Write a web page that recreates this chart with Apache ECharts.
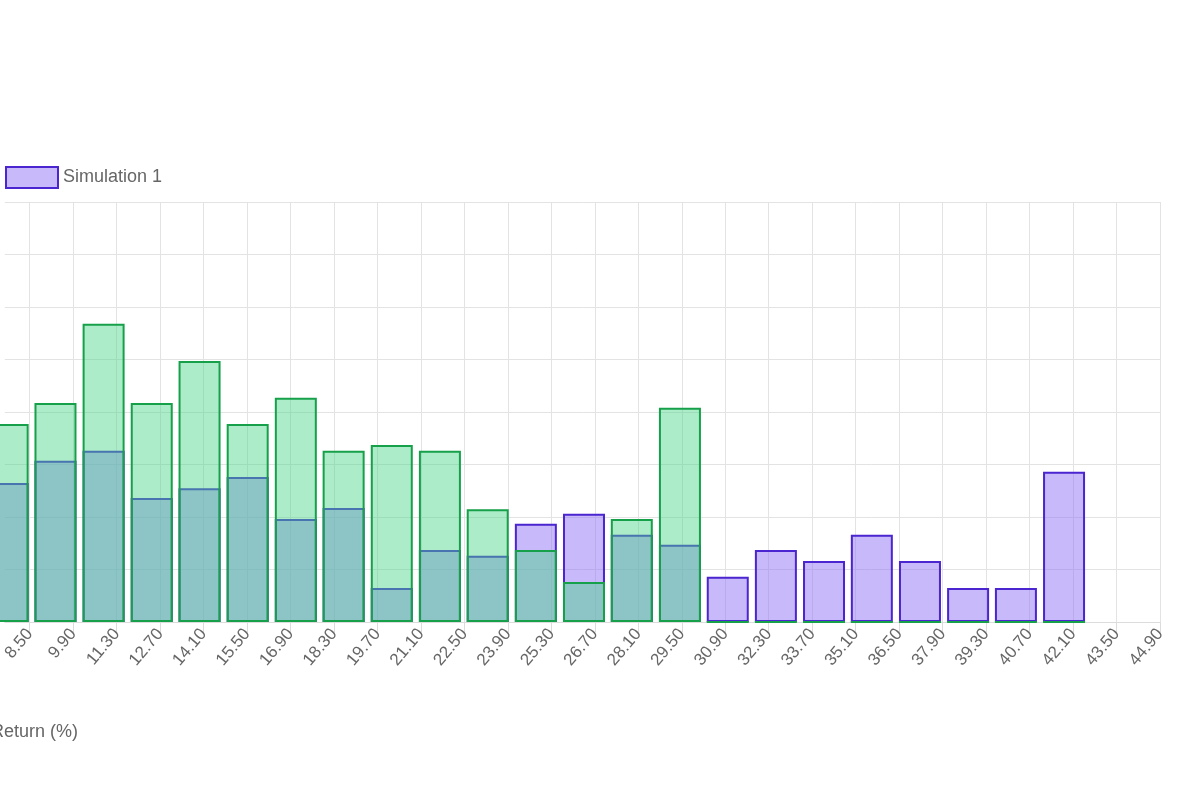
<!DOCTYPE html>
<html>
<head>
<meta charset="utf-8">
<script src="https://cdn.jsdelivr.net/npm/echarts@6/dist/echarts.min.js"></script>
<style>
  html, body { margin: 0; padding: 0; background: #fff; }
  #chart { width: 1200px; height: 800px; }
</style>
</head>
<body>
<div id="chart"></div>
<script>
// tick labels: first tick and step of the return axis (%)
var tickStart = 8.5;
var tickStep = 1.4;
var tickIdx = [];
for (var k = 0; k <= 26; k++) tickIdx.push(k);

// bin centres (return %) of the histogram bars
var binCenters = [7.79, 9.33, 10.88, 12.43, 13.97, 15.52, 17.07, 18.61, 20.16, 21.71, 23.25,
  24.80, 26.35, 27.89, 29.44, 30.98, 32.53, 34.08, 35.62, 37.17, 38.72, 40.26, 41.81];

// frequencies
var sim1 = [2.65, 3.07, 3.26, 2.36, 2.55, 2.76, 1.96, 2.17, 0.65, 1.37, 1.26,
  1.87, 2.06, 1.66, 1.47, 0.86, 1.37, 1.16, 1.66, 1.16, 0.65, 0.65, 2.86];
var sim2 = [3.77, 4.17, 5.68, 4.17, 4.97, 3.77, 4.27, 3.26, 3.37, 3.26, 2.15,
  1.37, 0.76, 1.96, 4.08, 0, 0, 0, 0, 0, 0, 0, 0];

// axis runs in "tick index" units so the ticks land on 8.50, 9.90, ...
function toTick(v) { return (v - tickStart) / tickStep; }

var pts1 = binCenters.map(function (c, i) { return [toTick(c), sim1[i]]; });
var pts2 = binCenters.map(function (c, i) { return [toTick(c), sim2[i]]; });

var chart = echarts.init(document.getElementById('chart'));
var option = {
  animation: false,
  textStyle: { fontFamily: 'Liberation Sans, Arial, sans-serif' },
  legend: {
    data: [{ name: 'Simulation 1', icon: 'rect' }],
    left: 0,
    top: 161,
    itemWidth: 52,
    itemHeight: 21,
    itemGap: 10,
    textStyle: { color: '#666', fontSize: 18 }
  },
  grid: { left: 0, right: 40, top: 202, bottom: 178 },
  xAxis: {
    type: 'value',
    min: -0.573,
    max: 26,
    axisLine: { lineStyle: { color: '#dcdcdc' } },
    axisTick: { show: true, length: 10, customValues: tickIdx, lineStyle: { color: '#dcdcdc' } },
    splitLine: { show: true, lineStyle: { color: '#e3e3e3' } },
    axisLabel: {
      rotate: 50,
      color: '#666',
      fontSize: 17,
      margin: 9,
      customValues: tickIdx,
      formatter: function (t) { return (tickStart + tickStep * t).toFixed(2); }
    }
  },
  yAxis: {
    type: 'value',
    min: 0,
    max: 8,
    interval: 1,
    axisLabel: { show: false },
    axisLine: { show: false },
    axisTick: { show: false },
    splitLine: { lineStyle: { color: '#e3e3e3' } }
  },
  graphic: [{
    type: 'text',
    left: -9,
    top: 723,
    style: { text: 'Return (%)', fill: '#666', font: '18px Liberation Sans, Arial, sans-serif' }
  }],
  series: [{
    name: 'Simulation 1',
    type: 'bar',
    barWidth: 42,
    barGap: '-100%',
    data: pts1,
    itemStyle: { color: 'rgba(143,115,245,0.5)', borderColor: '#4a25d0', borderWidth: 2 }
  }, {
    name: 'Simulation 2',
    type: 'bar',
    barWidth: 42,
    barGap: '-100%',
    data: pts2,
    itemStyle: { color: 'rgba(72,212,135,0.45)', borderColor: '#16a04a', borderWidth: 2 }
  }]
};
chart.setOption(option);
</script>
</body>
</html>
